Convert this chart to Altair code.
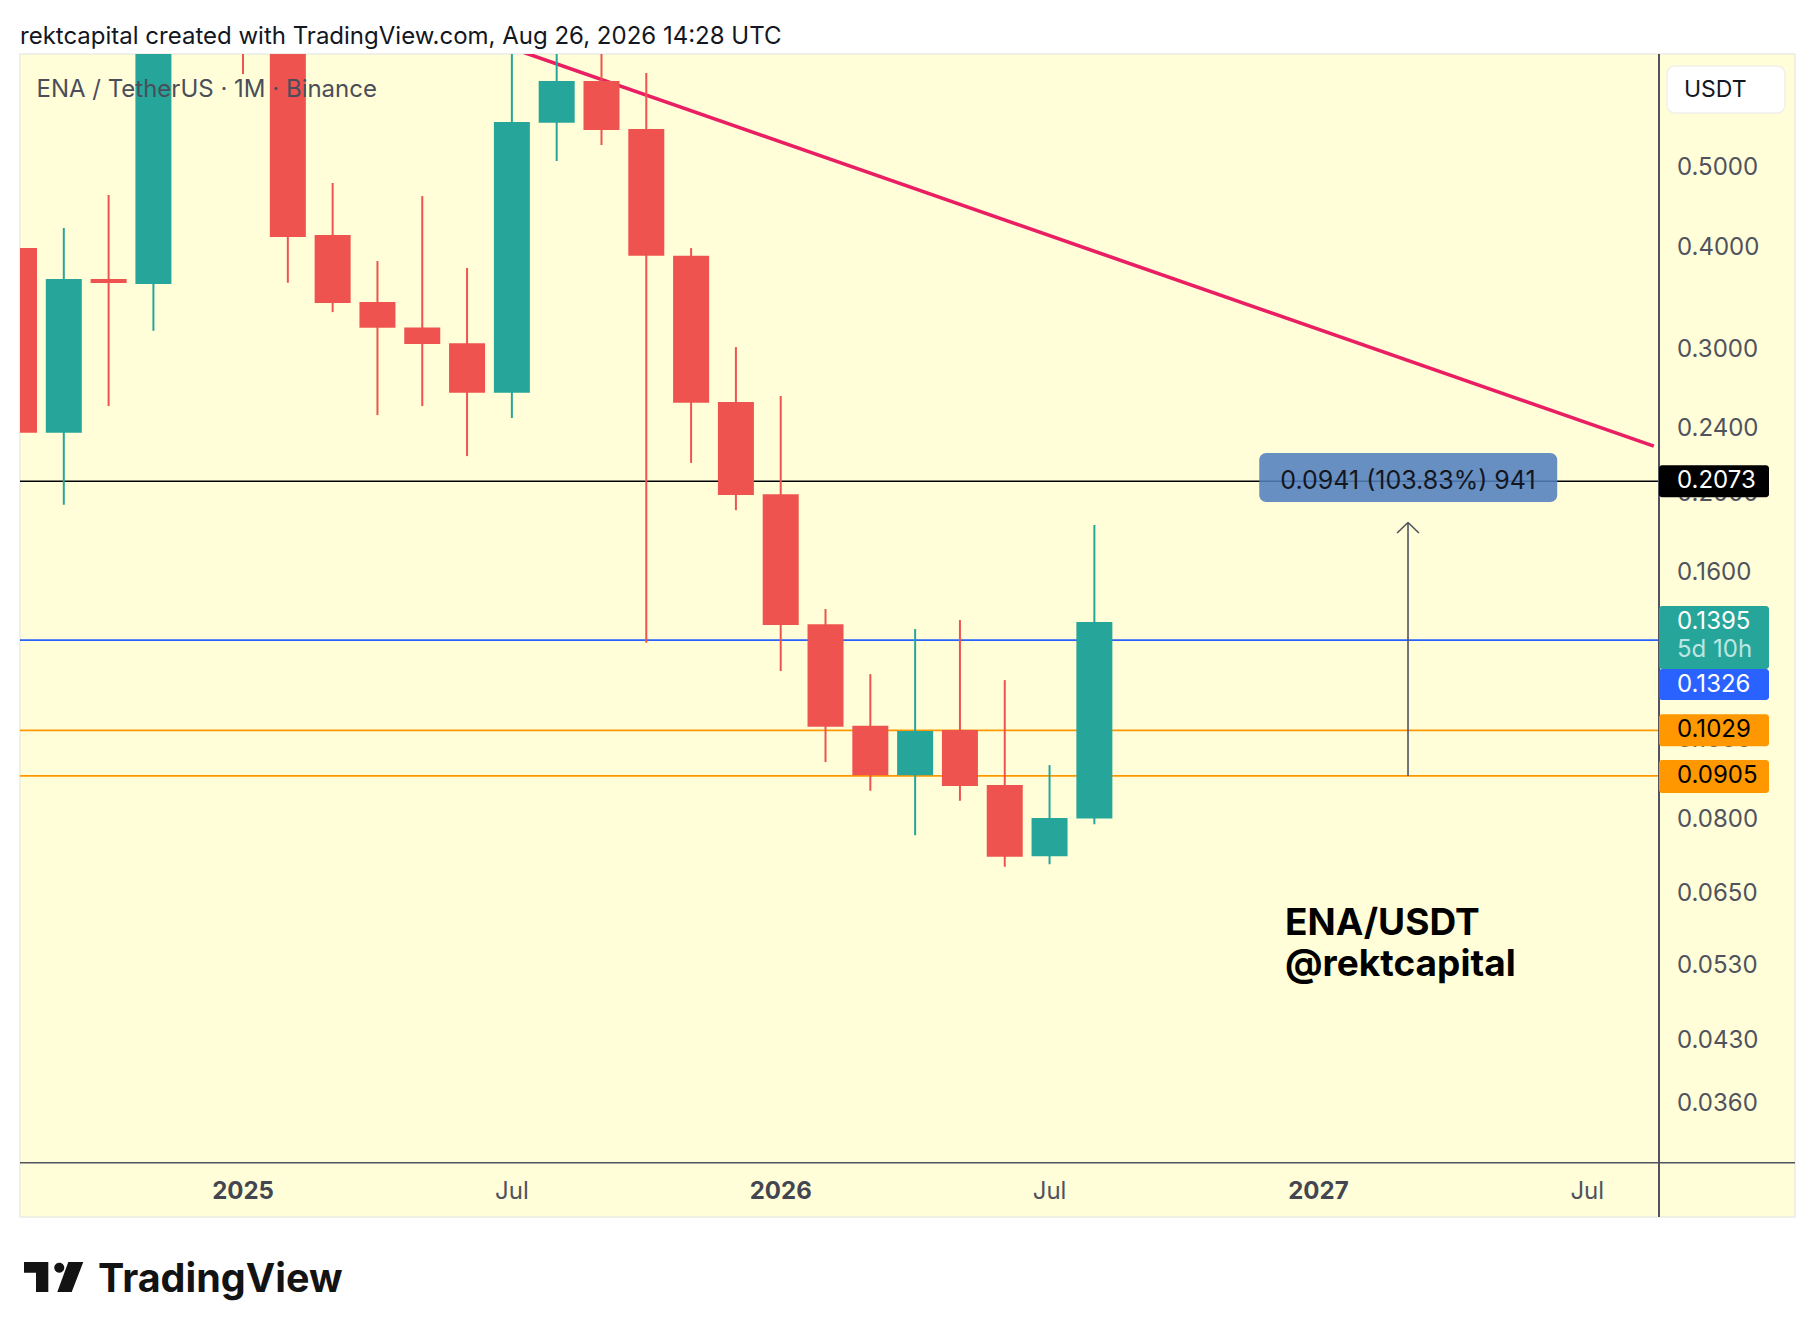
import altair as alt
import pandas as pd

# ---------------- data ----------------
months = ["2024-08", "2024-09", "2024-10", "2024-11", "2024-12",
          "2025-01", "2025-02", "2025-03", "2025-04", "2025-05", "2025-06",
          "2025-07", "2025-08", "2025-09", "2025-10", "2025-11", "2025-12",
          "2026-01", "2026-02", "2026-03", "2026-04", "2026-05", "2026-06",
          "2026-07", "2026-08"]
opens = [0.3994, 0.2376, 0.3661, 0.3610, 0.7800, 0.9000, 0.7400, 0.4143, 0.3431,
         0.3195, 0.3057, 0.2659, 0.5682, 0.6389, 0.5582, 0.3909, 0.2590, 0.1999,
         0.1387, 0.1042, 0.0907, 0.1030, 0.0882, 0.0722, 0.0803]
highs = [0.4205, 0.4225, 0.4637, 0.8000, 1.0400, 1.3100, 0.7900, 0.4796, 0.3851,
         0.4623, 0.3776, 0.7050, 0.8600, 0.7600, 0.6534, 0.3994, 0.3023, 0.2634,
         0.1447, 0.1205, 0.1368, 0.1403, 0.1185, 0.0933, 0.1833]
lows = [0.2024, 0.1940, 0.2561, 0.3165, 0.7200, 0.6516, 0.3623, 0.3336, 0.2497,
        0.2561, 0.2225, 0.2476, 0.5102, 0.5337, 0.1316, 0.2183, 0.1911, 0.1216,
        0.0941, 0.0868, 0.0766, 0.0844, 0.0701, 0.0706, 0.0790]
closes = [0.2376, 0.3661, 0.3620, 0.7800, 0.9000, 0.7400, 0.4120, 0.3422, 0.3192,
          0.3049, 0.2659, 0.5693, 0.6389, 0.5567, 0.3909, 0.2585, 0.1995, 0.1384,
          0.1039, 0.0907, 0.1027, 0.0880, 0.0721, 0.0804, 0.1395]

# horizontal levels
line_prices = [0.2073, 0.1326, 0.1029, 0.0905]
# price tags on the right scale
tag_prices = [0.2073, 0.1395, 0.1326, 0.1029, 0.0905]
tag_labels = ["0.2073", "0.1395", "0.1326", "0.1029", "0.0905"]
countdown = "5d 10h"

# descending trendline (months since Jan 2025, price)
trend_t = [5.0, 31.486]
trend_p = [0.732, 0.2288]

# measure tool: from 0.0905 up to 0.1846, label box
measure_t = 26.0
measure_from, measure_to = 0.0905, 0.1846
measure_head = 0.1792
measure_box_t = [22.68, 29.33]
measure_box_p = [0.2244, 0.1955]
measure_text = "0.0941 (103.83%) 941"

# axis ticks
y_ticks = [0.5, 0.4, 0.3, 0.24, 0.2, 0.16, 0.1, 0.08, 0.065, 0.053, 0.043, 0.036]
x_ticks_year = [0, 12, 24]
x_labels_year = ["2025", "2026", "2027"]
x_ticks_mon = [6, 18, 30]
x_labels_mon = ["Jul", "Jul", "Jul"]

header = "rektcapital created with TradingView.com, Aug 26, 2026 14:28 UTC"
legend_text = "ENA / TetherUS \u00b7 1M \u00b7 Binance"
note_lines = ["ENA/USDT", "@rektcapital"]

# ---------------- tables ----------------
j0 = months.index("2025-01")
df = pd.DataFrame({"month": months, "open": opens, "high": highs,
                   "low": lows, "close": closes})
df["t"] = [i - j0 for i in range(len(months))]
df["dir"] = ["up" if c >= o else "down" for o, c in zip(opens, closes)]

FONT = "Inter"
LBL = 24
W, H = 1639, 1109
xs = alt.Scale(domain=[-4.866, 31.49], nice=False, zero=False)
ys = alt.Scale(type="log", domain=[0.03047, 0.6894], nice=False)
col = alt.Color("dir:N", scale=alt.Scale(domain=["up", "down"],
                                         range=["#26A69A", "#EF5350"]), legend=None)
one = pd.DataFrame({"k": [0]})


def pix(mark):
    return alt.Chart(one).mark_text(**mark)


layers = []

# frame background
layers.append(alt.Chart(one).mark_rect(fill="#FFFED8", stroke="#ECECE4", strokeWidth=1.5)
              .encode(x=alt.value(0), x2=alt.value(1775), y=alt.value(0), y2=alt.value(1163)))

# horizontal levels
line_cols = ["#000000", "#2962FF", "#FF9800", "#FF9800"]
line_w = [1.6, 1.8, 1.8, 1.8]
for p, c, w in zip(line_prices, line_cols, line_w):
    layers.append(alt.Chart(pd.DataFrame({"p": [p]})).mark_rule(color=c, strokeWidth=w, clip=True)
                  .encode(y=alt.Y("p:Q", scale=ys, axis=None)))

# trendline
layers.append(alt.Chart(pd.DataFrame({"t": trend_t, "p": trend_p}))
              .mark_line(color="#E91E63", strokeWidth=3.6, clip=True)
              .encode(x=alt.X("t:Q", scale=xs, axis=None), y=alt.Y("p:Q", scale=ys, axis=None)))

# candles
base = alt.Chart(df)
layers.append(base.mark_rule(strokeWidth=2, clip=True).encode(
    x=alt.X("t:Q", scale=xs, axis=None), y=alt.Y("low:Q", scale=ys, axis=None), y2="high:Q", color=col))
layers.append(base.mark_bar(size=36, clip=True).encode(
    x=alt.X("t:Q", scale=xs, axis=None), y=alt.Y("open:Q", scale=ys, axis=None), y2="close:Q", color=col))

# measure box + arrow
layers.append(alt.Chart(pd.DataFrame({"t1": [measure_box_t[0]], "t2": [measure_box_t[1]],
                                      "p1": [measure_box_p[0]], "p2": [measure_box_p[1]]}))
              .mark_rect(fill="#537FBD", opacity=0.88, cornerRadius=7)
              .encode(x=alt.X("t1:Q", scale=xs, axis=None), x2="t2:Q",
                      y=alt.Y("p1:Q", scale=ys, axis=None), y2="p2:Q"))
layers.append(alt.Chart(pd.DataFrame({"t": [measure_t], "p": [line_prices[0]], "s": [measure_text]}))
              .mark_text(font=FONT, fontSize=25, color="#131722", align="center", baseline="middle")
              .encode(x=alt.X("t:Q", scale=xs, axis=None), y=alt.Y("p:Q", scale=ys, axis=None), text="s:N"))
arrow = pd.DataFrame({"t1": [measure_t, measure_t, measure_t],
                      "t2": [measure_t, measure_t - 0.244, measure_t + 0.244],
                      "p1": [measure_from, measure_to, measure_to],
                      "p2": [measure_to, measure_head, measure_head]})
layers.append(alt.Chart(arrow).mark_rule(color="#50535E", strokeWidth=1.6)
              .encode(x=alt.X("t1:Q", scale=xs, axis=None), x2="t2:Q",
                      y=alt.Y("p1:Q", scale=ys, axis=None), y2="p2:Q"))

# annotation text
for i, s in enumerate(note_lines):
    layers.append(pix(dict(text=s, font=FONT, fontSize=37, fontWeight="bold", color="#000000",
                           align="left", baseline="middle"))
                  .encode(x=alt.value(1265), y=alt.value(870 + 41 * i)))

# legend
layers.append(pix(dict(text=legend_text, font=FONT, fontSize=24, color="#4B4E5A",
                       align="left", baseline="middle")).encode(x=alt.value(16.5), y=alt.value(36)))

# axis separator lines
layers.append(alt.Chart(one).mark_rule(color="#50535E", strokeWidth=2)
              .encode(x=alt.value(1639), x2=alt.value(1639), y=alt.value(0), y2=alt.value(1163)))
layers.append(alt.Chart(one).mark_rule(color="#50535E", strokeWidth=1.6)
              .encode(x=alt.value(0), x2=alt.value(1775), y=alt.value(1108.7), y2=alt.value(1108.7)))

# y tick labels
yt = pd.DataFrame({"v": y_ticks, "s": ["%.4f" % v for v in y_ticks]})
layers.append(alt.Chart(yt).mark_text(font=FONT, fontSize=LBL, color="#50535E", align="left", baseline="middle")
              .encode(x=alt.value(1657), y=alt.Y("v:Q", scale=ys, axis=None), text="s:N"))

# x tick labels
layers.append(alt.Chart(pd.DataFrame({"t": x_ticks_year, "s": x_labels_year}))
              .mark_text(font=FONT, fontSize=LBL, fontWeight="bold", color="#434651", align="center", baseline="middle")
              .encode(x=alt.X("t:Q", scale=xs, axis=None), y=alt.value(1138), text="s:N"))
layers.append(alt.Chart(pd.DataFrame({"t": x_ticks_mon, "s": x_labels_mon}))
              .mark_text(font=FONT, fontSize=LBL, color="#50535E", align="center", baseline="middle")
              .encode(x=alt.X("t:Q", scale=xs, axis=None), y=alt.value(1138), text="s:N"))

# price tags
tag_style = [("#000000", "#FFFFFF", -16, 16, 0),
             ("#26A69A", "#FFFFFF", -16, 47, 0),
             ("#2962FF", "#FFFFFF", 29, 60, 44.5),
             ("#FF9800", "#000000", -16, 16, 0),
             ("#FF9800", "#000000", -16, 17, 0)]
for p, s, (bg, fg, o1, o2, dt) in zip(tag_prices, tag_labels, tag_style):
    d = pd.DataFrame({"p": [p], "s": [s]})
    layers.append(alt.Chart(d).mark_rect(fill=bg, yOffset=o1, y2Offset=o2, cornerRadius=3)
                  .encode(x=alt.value(1639), x2=alt.value(1749),
                          y=alt.Y("p:Q", scale=ys, axis=None), y2="p:Q"))
    layers.append(alt.Chart(d).mark_text(font=FONT, fontSize=LBL, color=fg, align="left",
                                         baseline="middle", dy=dt)
                  .encode(x=alt.value(1657), y=alt.Y("p:Q", scale=ys, axis=None), text="s:N"))
layers.append(alt.Chart(pd.DataFrame({"p": [tag_prices[1]], "s": [countdown]}))
              .mark_text(font=FONT, fontSize=LBL, color="#BDE5E1", align="left", baseline="middle", dy=28)
              .encode(x=alt.value(1657), y=alt.Y("p:Q", scale=ys, axis=None), text="s:N"))

# USDT box
layers.append(alt.Chart(one).mark_rect(fill="#FFFFFF", stroke="#F0F0EA", strokeWidth=1.5, cornerRadius=8)
              .encode(x=alt.value(1647), x2=alt.value(1765), y=alt.value(12), y2=alt.value(59)))
layers.append(pix(dict(text="USDT", font=FONT, fontSize=23, color="#131722", align="left", baseline="middle"))
              .encode(x=alt.value(1664), y=alt.value(35.5)))

# header
layers.append(pix(dict(text=header, font=FONT, fontSize=24, color="#131722", align="left",
                       baseline="alphabetic")).encode(x=alt.value(0), y=alt.value(-10.5)))

# TradingView logo
logo_path = ("M-0.988,-0.5L-0.178,-0.5L-0.178,0.5L-0.588,0.5L-0.588,-0.143L-0.988,-0.143Z"
             "M0.021,-0.31A0.167,0.167,0,1,0,0.355,-0.31A0.167,0.167,0,1,0,0.021,-0.31Z"
             "M0.488,-0.5L0.988,-0.5L0.602,0.5L0.122,0.5Z")
layers.append(alt.Chart(one).mark_point(shape=logo_path, size=3600, filled=True, fill="#131313",
                                        strokeWidth=0, opacity=1)
              .encode(x=alt.value(33.65), y=alt.value(1223)))
layers.append(pix(dict(text="TradingView", font=FONT, fontSize=39.5, fontWeight="bold", color="#131313",
                       align="left", baseline="alphabetic")).encode(x=alt.value(78), y=alt.value(1238)))

chart = (alt.layer(*layers)
         .properties(width=W, height=H,
                     padding={"left": 12, "top": 46, "right": 140, "bottom": 158},
                     autosize=alt.AutoSizeParams(type="none"))
         .configure_view(stroke=None)
         .configure(background="#FFFFFF"))

chart.save("out.html", embed_options={"renderer": "svg", "actions": False})
